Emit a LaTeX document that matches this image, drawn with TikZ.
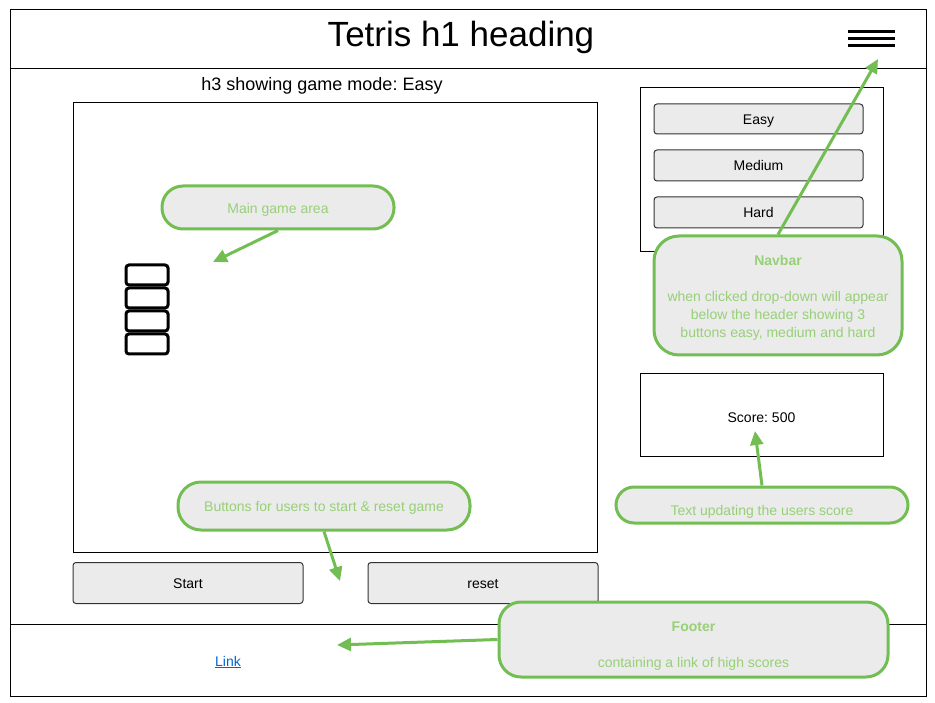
\documentclass[tikz,border=0pt]{standalone}
\usepackage{fontspec}
\setmainfont{Liberation Sans}
\usetikzlibrary{arrows.meta}
\frenchspacing
\definecolor{notegreen}{HTML}{72BE52}
\definecolor{notetext}{HTML}{97D077}
\definecolor{notefill}{HTML}{EBEBEB}
\definecolor{btnline}{HTML}{333333}
\definecolor{linkblue}{HTML}{0066CC}
\begin{document}
\begin{tikzpicture}[x=1pt,y=-1pt,
    note/.style={draw=notegreen, fill=notefill, line width=3, text=notetext,
      font=\fontsize{14}{18}\selectfont, align=center, inner sep=0},
    btn/.style={draw=btnline, fill=notefill, rounded corners=3, line width=1,
      font=\fontsize{14}{17}\selectfont, inner sep=0, text height=11, text depth=0},
    tetblock/.style={draw, line width=3, rounded corners=3},
    notearrow/.style={draw=notegreen, line width=3, -{Triangle[length=14,width=13]}}]
    \useasboundingbox (0,0) rectangle (935,703);

    % page frame
    \draw [line width=1] (10,10) rectangle (926,696);
    \draw [line width=1] (10,69) -- (926,69);
    \draw [line width=1] (10,624) -- (926,624);

    % header
    \node [yshift=-3] (title) at (461,34) {\fontsize{35}{40}\selectfont Tetris h1 heading};
    \draw [line width=3] (848,32) -- (895,32);
    \draw [line width=3] (848,39) -- (895,39);
    \draw [line width=3] (848,46) -- (895,46);
    \coordinate (menutip) at (878,59);

    % game area
    \node (mode) at (322,86) {\fontsize{18}{22}\selectfont h3 showing game mode: Easy};
    \draw [line width=1] (73,103) rectangle (597,552);
    \draw [tetblock] (126,265) rectangle (168,285);
    \draw [tetblock] (126,288) rectangle (168,308);
    \draw [tetblock] (126,311) rectangle (168,331);
    \draw [tetblock] (126,334) rectangle (168,354);
    \coordinate (gametip) at (213,262);

    % start and reset
    \node [btn, minimum width=230, minimum height=41] (start) at (188,583) {Start};
    \node [btn, minimum width=230, minimum height=41] (reset) at (483,583) {reset};
    \coordinate (btntip) at (340,581);

    % navbar drop-down
    \draw [line width=1] (640,88) rectangle (883,252);
    \node [btn, minimum width=209, minimum height=30] (easy) at (758.5,119) {Easy};
    \node [btn, minimum width=209, minimum height=31] (medium) at (758.5,165.5) {Medium};
    \node [btn, minimum width=209, minimum height=31] (hard) at (758.5,212.5) {Hard};

    % score
    \node [draw, line width=1, minimum width=243, minimum height=82, text height=14, text depth=0]
      (score) at (761.5,415) {\fontsize{14}{17}\selectfont Score: 500};
    \coordinate (scoretip) at (755,431);

    % footer
    \node [yshift=-1] (link) at (228,661) {\fontsize{14}{17}\selectfont\color{linkblue}\underline{Link}};
    \coordinate (linktip) at (337,645);

    % notes
    \node [note, rounded corners=21, minimum width=232, minimum height=43, text height=13, text depth=0]
      (mainnote) at (278,207.5) {Main game area};
    \node [note, rounded corners=23, minimum width=292, minimum height=48, text height=11, text depth=0]
      (btnnote) at (324,506) {Buttons for users to start \& reset game};
    \node [note, rounded corners=25, minimum width=248, minimum height=119] (navnote) at (778,295.5)
      {\rule{0pt}{14pt}\textbf{Navbar}\\[18pt]when clicked drop-down will appear\\below the header showing 3\\buttons easy, medium and hard};
    \node [note, rounded corners=18, minimum width=292, minimum height=36, text height=21, text depth=0]
      (scorenote) at (762,505) {Text updating the users score};
    \node [note, rounded corners=22, minimum width=389, minimum height=75] (footnote) at (693.5,639.5)
      {\rule{0pt}{22pt}\textbf{Footer}\\[18pt]containing a link of high scores};

    \draw [notearrow] (mainnote.south) -- (gametip);
    \draw [notearrow] (btnnote.south) -- (btntip);
    \draw [notearrow] (navnote.north) -- (menutip);
    \draw [notearrow] (scorenote.north) -- (scoretip);
    \draw [notearrow] (footnote.west) -- (linktip);
  \end{tikzpicture}
\end{document}
